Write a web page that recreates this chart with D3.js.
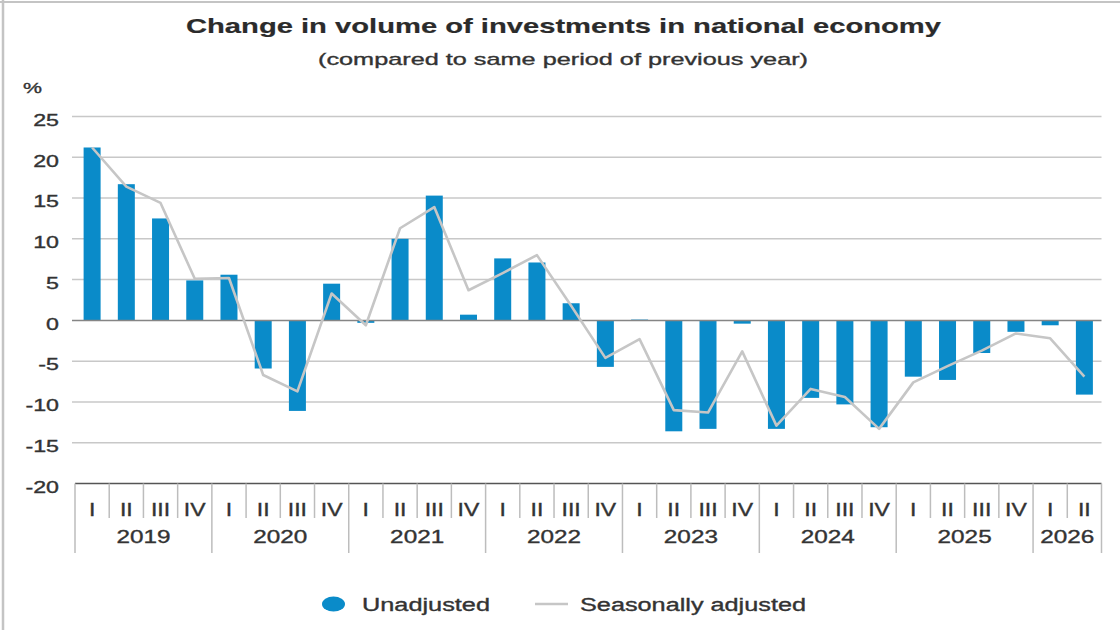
<!DOCTYPE html>
<html>
<head>
<meta charset="utf-8">
<script src="https://cdn.jsdelivr.net/npm/d3@7"></script>
<style>
  html, body { margin: 0; padding: 0; background: #fff; }
  svg { display: block; font-family: "Liberation Sans", Arial, sans-serif; }
</style>
</head>
<body>
<svg id="chart" width="1120" height="630"></svg>
<script>
// ---- data ----
const years = ["2019", "2020", "2021", "2022", "2023", "2024", "2025", "2026"];
const quarterLabels = ["I", "II", "III", "IV"];
const periods = [
  "2019 I","2019 II","2019 III","2019 IV",
  "2020 I","2020 II","2020 III","2020 IV",
  "2021 I","2021 II","2021 III","2021 IV",
  "2022 I","2022 II","2022 III","2022 IV",
  "2023 I","2023 II","2023 III","2023 IV",
  "2024 I","2024 II","2024 III","2024 IV",
  "2025 I","2025 II","2025 III","2025 IV",
  "2026 I","2026 II"
];
const unadjusted = [
  21.2, 16.7, 12.5, 4.9,
  5.6, -5.9, -11.1, 4.5,
  -0.3, 10.0, 15.3, 0.7,
  7.6, 7.1, 2.1, -5.7,
  0.1, -13.6, -13.3, -0.4,
  -13.3, -9.5, -10.3, -13.1,
  -6.9, -7.3, -4.0, -1.4,
  -0.6, -9.1
];
const seasonallyAdjusted = [
  21.2, 16.4, 14.4, 5.1,
  5.2, -6.7, -8.7, 3.3,
  -0.6, 11.3, 13.9, 3.7,
  5.8, 8.0, 1.8, -4.6,
  -2.3, -11.0, -11.3, -3.8,
  -12.9, -8.4, -9.4, -13.3,
  -7.6, -5.6, -3.7, -1.6,
  -2.2, -6.9
];
const yTicks = [25, 20, 15, 10, 5, 0, -5, -10, -15, -20];
const title = "Change in volume of investments in national economy";
const subtitle = "(compared to same period of previous year)";
const unitLabel = "%";
const legendLabels = ["Unadjusted", "Seasonally adjusted"];

// ---- layout ----
const svg = d3.select("#chart");
const plotL = 75, plotR = 1101.5, gridL = 72;
const yTop = 116.5, yBot = 483.5;
const barColor = "#0a8bc9";
const lineColor = "#c6c6c6";
const textColor = "#333333";
const gridColor = "#c8c8c8";

const x = d3.scaleBand().domain(d3.range(periods.length)).range([plotL, plotR]).padding(0);
const y = d3.scaleLinear().domain([-20, 25]).range([yBot, yTop]);
const cx = i => x(i) + x.bandwidth() / 2;
const barW = 17;

function stretchTo(sel, w) {
  sel.each(function() {
    this.setAttribute("textLength", w);
    this.setAttribute("lengthAdjust", "spacingAndGlyphs");
  });
}
function addText(parent, str, opts) {
  const fill = opts.fill || textColor;
  const t = parent.append("text").text(str)
    .attr("font-size", opts.size)
    .attr("font-weight", opts.weight || "normal")
    .attr("fill", fill)
    .attr("stroke", fill)
    .attr("stroke-width", opts.sw != null ? opts.sw : 0.35)
    .attr("y", opts.y);
  const nat = t.node().getComputedTextLength();
  const w = opts.width != null ? opts.width : nat * (opts.k || 1);
  stretchTo(t, w);
  let xs;
  if (opts.anchor === "middle") xs = opts.x - w / 2;
  else if (opts.anchor === "end") xs = opts.x - w;
  else xs = opts.x;
  t.attr("x", xs);
  return t;
}

// border (top & left frame)
svg.append("line").attr("x1", 0).attr("x2", 1120).attr("y1", 2).attr("y2", 2)
  .attr("stroke", "#c4c4c4").attr("stroke-width", 2);
svg.append("line").attr("x1", 3).attr("x2", 3).attr("y1", 0).attr("y2", 630)
  .attr("stroke", "#c4c4c4").attr("stroke-width", 2.5);

// title
addText(svg, title, { size: 21, weight: "bold", x: 186, y: 33, width: 755, fill: "#2b2b2b", sw: 0.2 });
addText(svg, subtitle, { size: 17, x: 318, y: 65, width: 490 });
addText(svg, unitLabel, { size: 15, x: 23, y: 93, width: 19 });

// gridlines
const kTick = 1.45;
svg.append("g").selectAll("line").data(yTicks.filter(v => v !== 0 && v !== -20)).join("line")
  .attr("x1", gridL).attr("x2", plotR)
  .attr("y1", d => y(d)).attr("y2", d => y(d))
  .attr("stroke", gridColor).attr("stroke-width", 1.5);

// y tick labels
const yLab = svg.append("g");
yTicks.forEach(v => {
  addText(yLab, String(v), { size: 16, x: 59, y: y(v) + 9.3, anchor: "end", k: kTick });
});

// bars
svg.append("g").selectAll("rect").data(unadjusted).join("rect")
  .attr("x", (d, i) => cx(i) - barW / 2)
  .attr("width", barW)
  .attr("y", d => y(Math.max(0, d)))
  .attr("height", d => Math.abs(y(d) - y(0)))
  .attr("fill", barColor);

// zero line
svg.append("line").attr("x1", gridL).attr("x2", plotR).attr("y1", y(0)).attr("y2", y(0))
  .attr("stroke", "#858585").attr("stroke-width", 1.5);

// seasonally adjusted line
svg.append("path").datum(seasonallyAdjusted)
  .attr("d", d3.line().x((d, i) => cx(i)).y(d => y(d)))
  .attr("fill", "none").attr("stroke", lineColor).attr("stroke-width", 2.6)
  .attr("stroke-linejoin", "round");

// x axis line
svg.append("line").attr("x1", plotL).attr("x2", plotR).attr("y1", y(-20)).attr("y2", y(-20))
  .attr("stroke", "#555").attr("stroke-width", 1.5);

// x ticks: quarter separators and year separators
const tickG = svg.append("g");
d3.range(periods.length + 1).forEach(b => {
  const xb = b < periods.length ? x(b) : plotR;
  const isYear = b === periods.length || periods[b].endsWith(" I");
  tickG.append("line")
    .attr("x1", xb).attr("x2", xb)
    .attr("y1", y(-20)).attr("y2", isYear ? 553 : 518)
    .attr("stroke", "#bdbdbd").attr("stroke-width", 1.5);
});

// quarter labels
const qG = svg.append("g");
periods.forEach((p, i) => {
  const q = p.split(" ")[1];
  addText(qG, q, { size: 18, x: cx(i), y: 516, anchor: "middle", k: 1.28 });
});

// year labels
const yG = svg.append("g");
years.forEach(yr => {
  const idx = periods.map((p, i) => [p, i]).filter(d => d[0].startsWith(yr)).map(d => d[1]);
  const mid = (x(idx[0]) + x(idx[idx.length - 1]) + x.bandwidth()) / 2;
  addText(yG, yr, { size: 18, x: mid, y: 543, anchor: "middle", k: 1.35 });
});

// legend
const lg = svg.append("g");
lg.append("ellipse").attr("cx", 333.5).attr("cy", 604).attr("rx", 11.5).attr("ry", 7.5).attr("fill", barColor);
addText(lg, legendLabels[0], { size: 18, x: 362, y: 610.5, width: 128 });
lg.append("line").attr("x1", 535).attr("x2", 568).attr("y1", 604).attr("y2", 604)
  .attr("stroke", lineColor).attr("stroke-width", 2.6);
addText(lg, legendLabels[1], { size: 18, x: 580, y: 610.5, width: 226 });
</script>
</body>
</html>
